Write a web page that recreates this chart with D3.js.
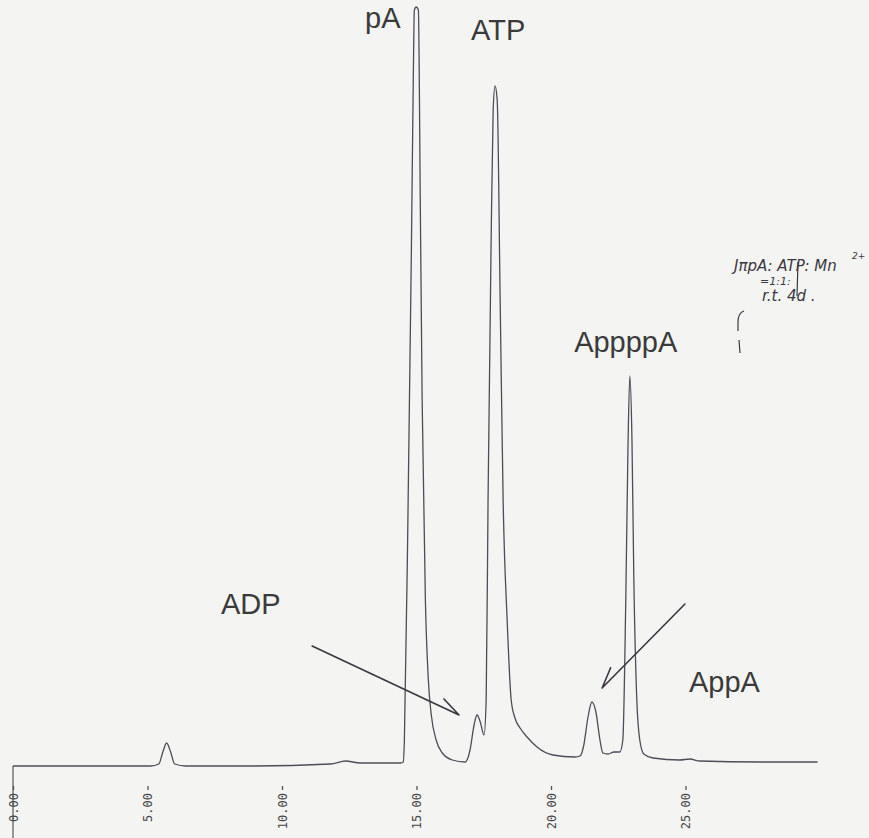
<!DOCTYPE html>
<html>
<head>
<meta charset="utf-8">
<script src="https://cdn.jsdelivr.net/npm/d3@7"></script>
<style>
  html, body { margin: 0; padding: 0; background: #f4f4f3; }
  svg { display: block; }
</style>
</head>
<body>
<div id="grafico"></div>
<script>
// retention time (min) and detector signal
const times = [0, 3.27, 5.12, 5.42, 5.57, 5.71, 5.86, 6.01, 6.42, 8.83, 11.80, 12.36, 12.91,
  14.40, 14.51, 14.55, 14.69, 14.81, 14.88, 14.92, 14.99, 15.07, 15.14, 15.21, 15.33, 15.44,
  15.55, 15.73, 15.96, 16.33, 16.81, 16.99, 17.14, 17.25, 17.37, 17.51, 17.59, 17.66, 17.77,
  17.85, 17.92, 18.00, 18.11, 18.22, 18.37, 18.52, 18.66, 18.85, 19.11, 19.48, 20.07, 20.89,
  21.08, 21.22, 21.37, 21.52, 21.67, 21.82, 21.93, 22.12, 22.34, 22.56, 22.67, 22.78, 22.86,
  22.93, 23.01, 23.08, 23.19, 23.30, 23.45, 23.79, 24.79, 25.16, 25.53, 27.76, 29.91];
const signal = [0, 0, 0, 2, 14, 23, 14, 2, 0, 0, 2, 5, 3,
  3, 4, 26, 266, 516, 686, 756, 759, 756, 566, 366, 166, 86,
  51, 26, 13, 6, 4, 16, 41, 51, 44, 31, 66, 266, 516,
  656, 680, 666, 466, 266, 146, 66, 48, 38, 29, 19, 11, 9,
  10, 21, 48, 64, 54, 26, 13, 12, 14, 14, 26, 166, 316,
  390, 326, 186, 66, 26, 12, 8, 6, 7, 5, 4, 4];

// x axis ticks
const tickValues = [0, 5, 10, 15, 20, 25];

// peak names and where they are written (time, signal)
const peakNames = ["pA", "ATP", "AppppA", "AppA", "ADP"];
const labelTime = [13.09, 17.03, 20.86, 25.13, 7.73];
const labelSignal = [738, 726, 414, 74, 152];

// arrows for the small peaks: from (t0,s0) to tip (t1,s1)
const arrowNames = ["ADP", "AppA"];
const arrowFrom = [[11.12, 120], [24.98, 162]];
const arrowTo = [[16.58, 51], [21.90, 78]];

const width = 869, height = 838;

const svg = d3.select("#grafico").append("svg")
  .attr("width", width)
  .attr("height", height);

svg.append("rect").attr("width", width).attr("height", height).attr("fill", "#f4f4f3");

const x = d3.scaleLinear().domain([0, 30]).range([13, 820]);
const y = d3.scaleLinear().domain([0, 760]).range([766, 6]);

// left axis stub going down from the baseline
svg.append("line")
  .attr("x1", x(0)).attr("x2", x(0))
  .attr("y1", y(0)).attr("y2", height)
  .attr("stroke", "#555").attr("stroke-width", 1.2);

// time axis: short ticks and rotated labels
const ax = svg.append("g")
  .attr("transform", "translate(0,786)")
  .call(d3.axisBottom(x).tickValues(tickValues).tickFormat(d3.format(".2f")).tickSize(4));
ax.select(".domain").remove();
ax.selectAll(".tick line").attr("stroke", "#555").attr("stroke-width", 1.3);
ax.selectAll(".tick text")
  .attr("transform", "translate(0,7) rotate(-90)")
  .attr("text-anchor", "end")
  .attr("x", 0).attr("y", 0).attr("dy", "0.35em")
  .attr("fill", "#444")
  .style("font-family", "'DejaVu Sans Mono', monospace")
  .style("font-size", "12px");

// chromatogram trace
const pts = times.map((t, i) => [t, signal[i]]);
const line = d3.line()
  .x(d => x(d[0]))
  .y(d => y(d[1]))
  .curve(d3.curveMonotoneX);

svg.append("path")
  .datum(pts)
  .attr("d", line)
  .attr("fill", "none")
  .attr("stroke", "#4d4d57")
  .attr("stroke-width", 1.3)
  .attr("stroke-linejoin", "round");

// peak labels
svg.selectAll(".peak-label")
  .data(peakNames)
  .join("text")
  .attr("class", "peak-label")
  .attr("x", (d, i) => x(labelTime[i]))
  .attr("y", (d, i) => y(labelSignal[i]))
  .attr("fill", "#3a3a3a")
  .style("font-family", "'Liberation Sans', Arial, sans-serif")
  .style("font-size", "29px")
  .text(d => d);

// arrows with a single barb
arrowNames.forEach((name, i) => {
  const x0 = x(arrowFrom[i][0]), y0 = y(arrowFrom[i][1]);
  const x1 = x(arrowTo[i][0]), y1 = y(arrowTo[i][1]);
  const ang = Math.atan2(y0 - y1, x0 - x1);
  const barb = ang + (i === 0 ? 0.38 : -0.38);
  svg.append("path")
    .attr("d", `M${x0},${y0}L${x1},${y1}M${x1},${y1}L${x1 + 22 * Math.cos(barb)},${y1 + 22 * Math.sin(barb)}`)
    .attr("fill", "none")
    .attr("stroke", "#3d3540")
    .attr("stroke-width", 1.6)
    .attr("stroke-linecap", "round");
});

// handwritten note
const note = svg.append("g")
  .attr("fill", "#3a3a42")
  .style("font-family", "'DejaVu Sans', sans-serif")
  .style("font-style", "italic");
note.append("text").attr("x", 734).attr("y", 271).style("font-size", "15px").text("JπpA: ATP: Mn");
note.append("text").attr("x", 852).attr("y", 259).style("font-size", "9px").text("2+");
note.append("text").attr("x", 760).attr("y", 285).style("font-size", "11px").text("=1:1:");
note.append("text").attr("x", 762).attr("y", 301).style("font-size", "15px").text("r.t.  4d .");
note.append("path")
  .attr("d", "M798,262 L797,296 M744,311 Q738,313 738,322 L738,331 M739,340 L740,353")
  .attr("fill", "none").attr("stroke", "#3a3a42").attr("stroke-width", 1.2);
</script>
</body>
</html>
